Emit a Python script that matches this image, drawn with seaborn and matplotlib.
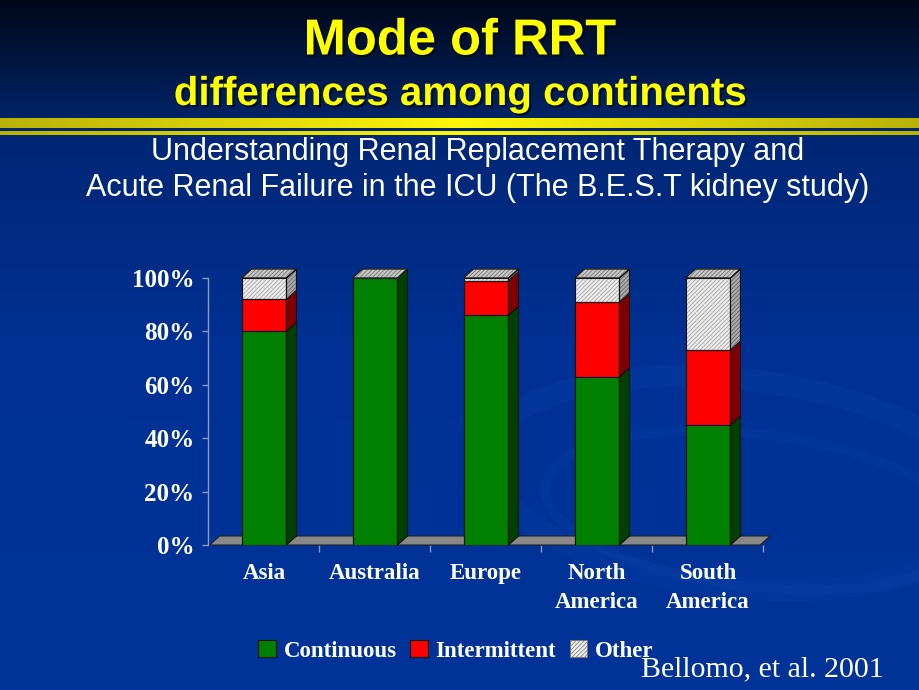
import numpy as np
import matplotlib
matplotlib.use("Agg")
import matplotlib.pyplot as plt
import matplotlib.patheffects as pe
from matplotlib.patches import Polygon, Patch, Rectangle, Ellipse
import seaborn as sns
import pandas as pd

# ---- data ----
continents = ["Asia", "Australia", "Europe", "North\nAmerica", "South\nAmerica"]
continuous = [80, 100, 86, 63, 45]
intermittent = [12, 0, 13, 28, 28]
other = [8, 0, 1, 9, 27]
yticks = [0, 20, 40, 60, 80, 100]
ytick_labels = ["0%", "20%", "40%", "60%", "80%", "100%"]
series_names = ["Continuous", "Intermittent", "Other"]

df = pd.DataFrame({"continent": continents, "Continuous": continuous,
                   "Intermittent": intermittent, "Other": other})
df["cum_ci"] = df["Continuous"] + df["Intermittent"]
df["cum_all"] = df["cum_ci"] + df["Other"]

sns.set_style("ticks")
plt.rcParams["font.family"] = ["Liberation Sans", "DejaVu Sans"]
plt.rcParams["hatch.linewidth"] = 0.5

W, H = 920, 690
fig = plt.figure(figsize=(W / 100, H / 100), dpi=100)

# ---- background gradient ----
bg = fig.add_axes([0, 0, 1, 1], zorder=-10)
yy = np.linspace(0, 1, H)
stops_y = [0.0, 0.17, 0.175, 0.5, 1.0]
stops_c = [(0.0, 0.03, 0.10), (0.0, 0.14, 0.40), (0.0, 0.15, 0.45),
           (0.0, 0.19, 0.58), (0.0, 0.20, 0.60)]
img = np.zeros((H, 1, 3))
for k in range(3):
    img[:, 0, k] = np.interp(yy, stops_y, [c[k] for c in stops_c])
bg.imshow(img, aspect="auto", extent=[0, 1, 0, 1], origin="upper")
# faint swirl
for (cx, cy, w, h, a, lw) in [(0.80, 0.30, 0.55, 0.30, -10, 16), (0.82, 0.26, 0.46, 0.22, -10, 7)]:
    bg.add_patch(Ellipse((cx, cy), w, h, angle=a, fill=False,
                         edgecolor=(0.05, 0.26, 0.66), lw=lw, alpha=0.3))
# yellow stripes with horizontal gradient
xs = np.linspace(0, 1, W)
bright = 1 - 0.55 * np.abs(xs - 0.5) * 2
stripe = np.zeros((1, W, 3))
stripe[0, :, 0] = 0.5 + 0.5 * bright
stripe[0, :, 1] = 0.47 + 0.50 * bright
stripe[0, :, 2] = 0.0
bg.imshow(stripe, aspect="auto", extent=[0, 1, 1 - 128 / H, 1 - 118 / H])
bg.imshow(stripe, aspect="auto", extent=[0, 1, 1 - 135 / H, 1 - 131 / H])
bg.set_xlim(0, 1)
bg.set_ylim(0, 1)
bg.axis("off")

# ---- titles ----
shadow = [pe.SimpleLineShadow(offset=(1.5, -1.5), shadow_color="black", alpha=0.6, linewidth=0),
          pe.withSimplePatchShadow(offset=(1.5, -1.5), shadow_rgbFace="black", alpha=0.6)]
fig.text(0.5, 1 - 41 / H, "Mode of RRT", ha="center", va="center",
         color="#ffff00", fontsize=36.5, fontweight="bold",
         path_effects=[pe.withSimplePatchShadow(offset=(1.5, -1.5), shadow_rgbFace="black", alpha=0.6)])
fig.text(0.5, 1 - 94 / H, "differences among continents", ha="center", va="center",
         color="#ffff00", fontsize=29, fontweight="bold",
         path_effects=[pe.withSimplePatchShadow(offset=(1.5, -1.5), shadow_rgbFace="black", alpha=0.6)])
fig.text(478 / W, 1 - 152 / H, "Understanding Renal Replacement Therapy and",
         ha="center", va="center", color="white", fontsize=22)
fig.text(478 / W, 1 - 188 / H, "Acute Renal Failure in the ICU (The B.E.S.T kidney study)",
         ha="center", va="center", color="white", fontsize=22)

# ---- chart ----
left, right, bottom, top = 208.5, 763.5, 545, 278
ax = fig.add_axes([left / W, 1 - bottom / H, (right - left) / W, (bottom - top) / H])
ax.set_facecolor("none")

green, green_side = "#008000", "#004000"
red, red_side = "#ff0000", "#800000"
grey_face, grey_side, grey_top = "#ececec", "#a8a8a8", "#c4c4c4"

dx = 10 / 111.0
dy = 9 / 2.67

# floor
floor = Polygon([(-0.49, 0), (4.47, 0), (4.47 + dx, dy), (-0.49 + dx, dy)],
                closed=True, facecolor="#888888", edgecolor="#222222", lw=0.8,
                zorder=1, clip_on=False)
ax.add_patch(floor)

bw = 0.405
HATCH = "////////"
sns.barplot(data=df, x="continent", y="cum_all", color=grey_face, saturation=1,
            width=bw, edgecolor="#9a9a9a", linewidth=0.6, hatch=HATCH, ax=ax, zorder=3)
sns.barplot(data=df, x="continent", y="cum_ci", color=red, saturation=1,
            width=bw, edgecolor="#111111", linewidth=0.8, ax=ax, zorder=3)
sns.barplot(data=df, x="continent", y="Continuous", color=green, saturation=1,
            width=bw, edgecolor="#111111", linewidth=0.8, ax=ax, zorder=3)

tot_c, ci_c, g_c = ax.containers[0], ax.containers[1], ax.containers[2]
for i in range(len(continents)):
    pg, pr, pt = g_c[i], ci_c[i], tot_c[i]
    x0, w = pg.get_x(), pg.get_width()
    hg, hr, ht = pg.get_height(), pr.get_height(), pt.get_height()
    if ht > hr:
        ax.add_patch(Rectangle((x0, hr), w, ht - hr, fill=False, edgecolor="#111111",
                               lw=0.8, zorder=4, clip_on=False))
    segs = [(0, hg, green_side, None), (hg, hr, red_side, None),
            (hr, ht, grey_side, HATCH)]
    for (y0, y1, col, hat) in segs:
        if y1 - y0 <= 0:
            continue
        poly = Polygon([(x0 + w, y0), (x0 + w + dx, y0 + dy), (x0 + w + dx, y1 + dy),
                        (x0 + w, y1)], closed=True, facecolor=col,
                       edgecolor="#111111" if hat is None else "#606060",
                       lw=0.8, hatch=hat, zorder=3, clip_on=False)
        ax.add_patch(poly)
        if hat is not None:
            ax.add_patch(Polygon(poly.get_xy(), closed=True, fill=False,
                                 edgecolor="#111111", lw=0.8, zorder=4, clip_on=False))
    topp = [(x0, ht), (x0 + dx, ht + dy), (x0 + w + dx, ht + dy), (x0 + w, ht)]
    ax.add_patch(Polygon(topp, closed=True, facecolor=grey_top, edgecolor="#707070",
                         lw=0.5, hatch=HATCH, zorder=3, clip_on=False))
    ax.add_patch(Polygon(topp, closed=True, fill=False, edgecolor="#111111",
                         lw=0.8, zorder=4, clip_on=False))

ax.set_ylim(0, 100)
ax.set_xlim(-0.5, 4.5)
ax.set_yticks(yticks)
ax.set_yticklabels(ytick_labels)
ax.set_xlabel("")
ax.set_ylabel("")
for s in ["top", "right", "bottom"]:
    ax.spines[s].set_visible(False)
ax.spines["left"].set_color("#8a9ac0")
ax.spines["left"].set_linewidth(1.0)
ax.tick_params(axis="y", colors="#8a9ac0", length=4, width=1, pad=6,
               labelcolor="white")
ax.tick_params(axis="x", length=0, pad=13, labelcolor="white")
ax.set_xticks([0.5, 1.5, 2.5, 3.5, 4.5], minor=True)
ax.tick_params(axis="x", which="minor", length=5, color="#8a9ac0", width=1)
for lab in ax.get_yticklabels():
    lab.set_fontfamily(["Liberation Serif", "DejaVu Serif"])
    lab.set_fontweight("bold")
    lab.set_fontsize(18)
for lab in ax.get_xticklabels():
    lab.set_fontfamily(["Liberation Serif", "DejaVu Serif"])
    lab.set_fontweight("bold")
    lab.set_fontsize(16.5)
    lab.set_linespacing(1.5)

# legend
handles = [Patch(facecolor=green, edgecolor="#111111", lw=0.8),
           Patch(facecolor=red, edgecolor="#111111", lw=0.8),
           Patch(facecolor=grey_face, edgecolor="#777777", hatch=HATCH, lw=0.8)]
leg = fig.legend(handles, series_names, loc="center", bbox_to_anchor=(456 / W, 1 - 651 / H),
                 ncol=3, frameon=False, handlelength=0.75, handleheight=0.75,
                 handletextpad=0.35, columnspacing=0.6,
                 prop={"family": ["Liberation Serif"], "weight": "bold", "size": 16.5})
for t in leg.get_texts():
    t.set_color("white")

fig.text(762 / W, 1 - 669 / H, "Bellomo, et al. 2001", ha="center", va="center",
         color="white", fontsize=21.5, fontfamily=["Liberation Serif"])

fig.savefig("out.png", dpi=100)
